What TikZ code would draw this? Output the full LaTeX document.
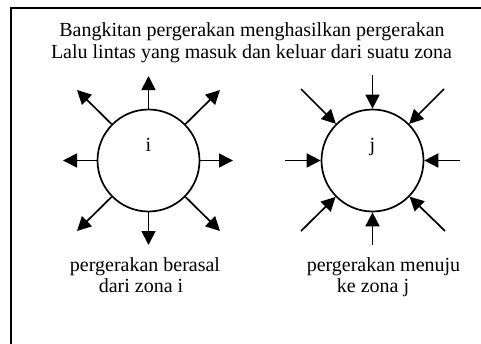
\documentclass[tikz,border=0pt]{standalone}
\usepackage{fontspec}
\setmainfont{Liberation Serif}
\usetikzlibrary{arrows.meta}
\begin{document}
\begin{tikzpicture}[x=1pt,y=-1pt,
  zone/.style={circle,draw,line width=1.7pt,minimum size=102pt,inner sep=0pt},
  flow/.style={line width=1.7pt,-{Triangle[length=14pt,width=14pt]}},
  txt/.style={anchor=base,inner sep=0pt,font=\fontsize{20}{21.5}\selectfont},
  frame/.style={line width=2.2pt}]
\useasboundingbox (0,0) rectangle (481,343);
\clip (0,0) rectangle (481,343);
\fill[white] (0,0) rectangle (481,343);
% open frame running off the right and bottom edges
\draw[frame] (11,360) -- (11,8) -- (500,8);

% heading
\node[txt] (t1) at (252,36.5) {Bangkitan pergerakan menghasilkan pergerakan};
\node[txt] (t2) at (251.5,58) {Lalu lintas yang masuk dan keluar dari suatu zona};

% zone i: trips produced
\node[zone] (i) at (148.5,160.5) {};
\node[txt] (il) at (148.5,151) {i};
\coordinate (iN)  at (148.5,76);
\coordinate (iS)  at (148.5,245);
\coordinate (iE)  at (233,160.5);
\coordinate (iW)  at (63,160.5);
\coordinate (iNE) at (220,90);
\coordinate (iNW) at (77,90);
\coordinate (iSE) at (220,231);
\coordinate (iSW) at (77,231);
\foreach \t in {iN,iS,iE,iW,iNE,iNW,iSE,iSW}
  \draw[flow] (i) -- (\t);

% zone j: trips attracted
\node[zone] (j) at (372.5,160.5) {};
\node[txt] (jl) at (372.5,151) {j};
\coordinate (jN)  at (372.5,75);
\coordinate (jS)  at (372.5,245);
\coordinate (jE)  at (460,160.5);
\coordinate (jW)  at (285,160.5);
\coordinate (jNE) at (444,89);
\coordinate (jNW) at (301,89);
\coordinate (jSE) at (445,231);
\coordinate (jSW) at (301,231);
\foreach \t in {jN,jS,jE,jW,jNE,jNW,jSE,jSW}
  \draw[flow] (\t) -- (j);

% captions
\node[txt] (c1) at (145,271.5) {pergerakan berasal};
\node[txt] (c2) at (141,292.5) {dari zona i};
\node[txt] (c3) at (383.5,271.5) {pergerakan menuju};
\node[txt] (c4) at (373,292.5) {ke zona j};
\end{tikzpicture}
\end{document}
